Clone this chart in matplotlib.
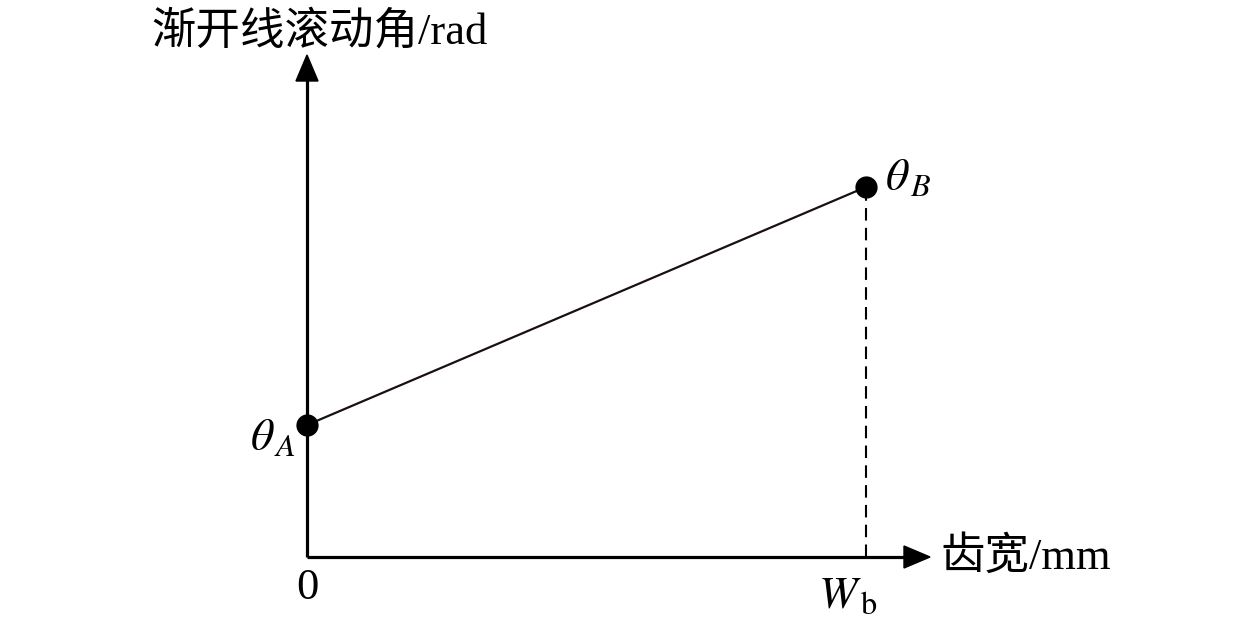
import matplotlib
matplotlib.use("Agg")
import matplotlib.pyplot as plt

plt.rcParams['font.family'] = ['Liberation Serif', 'Noto Sans CJK SC']
plt.rcParams['mathtext.fontset'] = 'stix'

# schematic values (chart units)
x_pts = [0, 559]          # 0 .. W_b
y_pts = [132, 370]        # theta_A .. theta_B
point_labels = [r'$\theta_{\,A}$', r'$\theta_{\,B}$']
x_axis_len = 623
y_axis_len = 502
x_label = '齿宽/mm'
y_label = '渐开线滚动角/rad'
x_ticks = ['0', r'$W_{\,\mathrm{b}}$']

fig = plt.figure(figsize=(12.6, 6.3), dpi=100)
ax = fig.add_axes([0, 0, 1, 1])
ax.set_xlim(-307, 953)
ax.set_ylim(-73, 557)
ax.axis('off')

# axes with arrow heads
ax.plot([0, x_axis_len - 24], [0, 0], color='black', lw=2.3, solid_capstyle='butt')
ax.plot([0, 0], [0, y_axis_len - 24], color='black', lw=2.3, solid_capstyle='butt')
ax.fill([x_axis_len - 26, x_axis_len, x_axis_len - 26], [11, 0, -11], color='black')
ax.fill([-11, 0, 11], [y_axis_len - 26, y_axis_len, y_axis_len - 26], color='black')

# line between the two points
ax.plot(x_pts, y_pts, color='#1a1010', lw=1.6)
ax.plot([x_pts[1], x_pts[1]], [0, y_pts[1]], color='black', lw=1.5,
        linestyle=(0, (6, 3.5)))
ax.plot(x_pts, y_pts, 'o', color='black', markersize=15, zorder=5)

# labels
ax.text(x_pts[0] - 34, y_pts[0] - 14, point_labels[0], fontsize=33,
        ha='center', va='center')
ax.text(x_pts[1] + 42, y_pts[1] + 8, point_labels[1], fontsize=33,
        ha='center', va='center')
ax.text(x_pts[0], -31, x_ticks[0], fontsize=32, ha='center', va='center')
ax.text(x_pts[1] - 18, -40, x_ticks[1], fontsize=33, ha='center', va='center')
ax.text(633, 0, x_label, fontsize=32, ha='left', va='center')
ax.text(13, 525, y_label, fontsize=32, ha='center', va='center')

fig.savefig('out.png', dpi=100)
